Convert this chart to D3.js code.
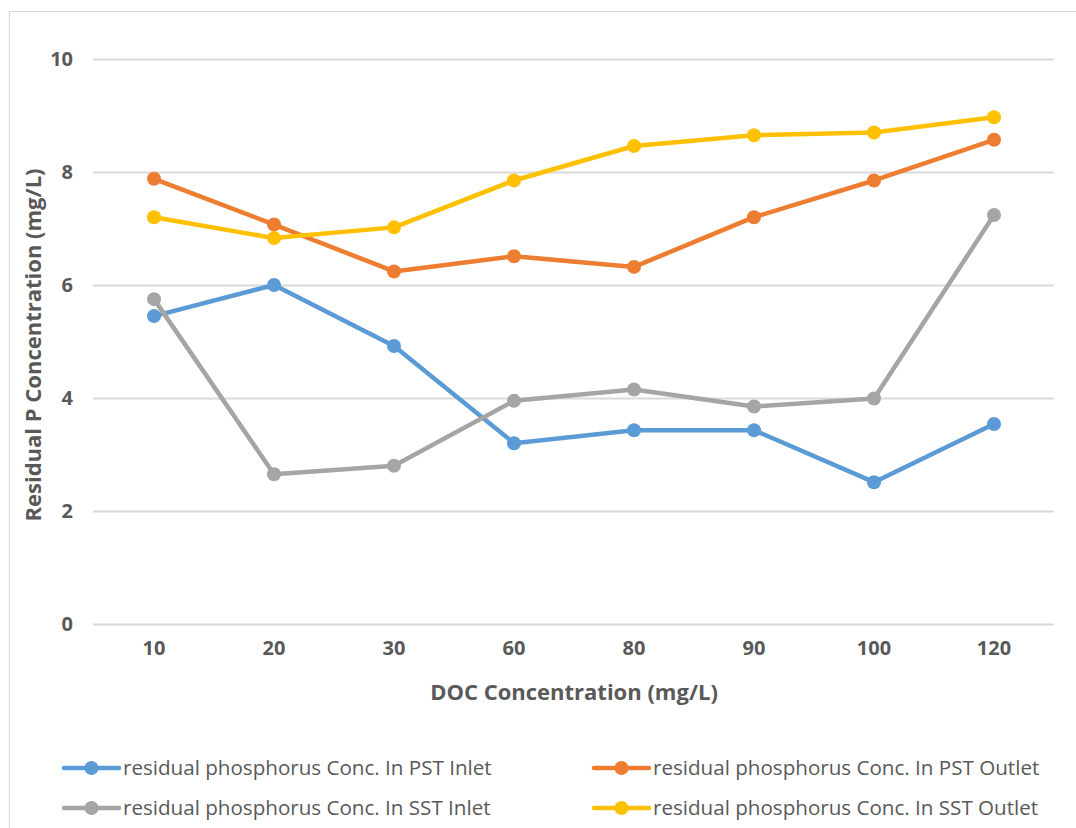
<!DOCTYPE html>
<html><head><meta charset="utf-8">
<script src="https://cdn.jsdelivr.net/npm/d3@7"></script>
<style>body{margin:0;background:#fff;} svg{display:block;font-family:"Open Sans",Lato,sans-serif;}</style>
</head><body><svg id="c" width="1076" height="828"></svg>
<script>
const categories = ["10","20","30","60","80","90","100","120"];
const pstInlet  = [5.45, 6.00, 4.92, 3.20, 3.43, 3.43, 2.51, 3.54];
const pstOutlet = [7.88, 7.07, 6.24, 6.51, 6.32, 7.20, 7.85, 8.57];
const sstInlet  = [5.75, 2.65, 2.80, 3.95, 4.15, 3.85, 3.99, 7.24];
const sstOutlet = [7.20, 6.83, 7.02, 7.85, 8.46, 8.65, 8.70, 8.97];
const yTicks = [0, 2, 4, 6, 8, 10];
const seriesNames = [
  "residual phosphorus Conc. In PST Inlet",
  "residual phosphorus Conc. In PST Outlet",
  "residual phosphorus Conc. In SST Inlet",
  "residual phosphorus Conc. In SST Outlet"
];
const seriesColors = ["#5b9bd5", "#ed7d31", "#a5a5a5", "#ffc000"];
const seriesData = [pstInlet, pstOutlet, sstInlet, sstOutlet];

const svg = d3.select("#c");
const txt = "#595959";
const ff = "'Open Sans', sans-serif";
// outer border
svg.append("rect").attr("x", 9.5).attr("y", 11.5).attr("width", 1080).attr("height", 830)
  .attr("fill", "none").attr("stroke", "#d9d9d9").attr("stroke-width", 1);

const x = d3.scaleBand().domain(categories).range([94, 1054]);
const y = d3.scaleLinear().domain([0, 10]).range([624, 59]);

// gridlines
svg.append("g").selectAll("line").data(yTicks).join("line")
  .attr("x1", 93).attr("x2", 1054)
  .attr("y1", d => Math.round(y(d)) + 0.5).attr("y2", d => Math.round(y(d)) + 0.5)
  .attr("stroke", "#d9d9d9").attr("stroke-width", 2);

// y axis labels
const yAxis = d3.axisLeft(y).tickValues(yTicks).tickSize(0).tickPadding(0);
const gy = svg.append("g").attr("transform", "translate(73,0)").call(yAxis);
gy.select(".domain").remove();
gy.selectAll("text").attr("fill", txt).attr("font-size", 20).attr("font-weight", "bold")
  .attr("font-family", ff);

// x axis labels
const xAxis = d3.axisBottom(x).tickSize(0).tickPadding(0);
const gx = svg.append("g").attr("transform", "translate(0,641)").call(xAxis);
gx.select(".domain").remove();
gx.selectAll("text").attr("fill", txt).attr("font-size", 20).attr("font-weight", "bold")
  .attr("font-family", ff);

// axis titles
svg.append("text").attr("x", 574).attr("y", 700).attr("text-anchor", "middle")
  .attr("fill", txt).attr("font-size", 22).attr("font-weight", "bold").attr("font-family", ff)
  .text("DOC Concentration (mg/L)");
svg.append("text").attr("transform", "translate(41,345) rotate(-90)").attr("text-anchor", "middle")
  .attr("fill", txt).attr("font-size", 22).attr("font-weight", "bold").attr("font-family", ff)
  .text("Residual P Concentration (mg/L)");

const line = d3.line().x((d, i) => x(categories[i]) + x.bandwidth() / 2).y(d => y(d));

seriesData.forEach((s, k) => {
  const g = svg.append("g");
  g.append("path").datum(s).attr("d", line).attr("fill", "none")
    .attr("stroke", seriesColors[k]).attr("stroke-width", 4.5).attr("stroke-linejoin", "round").attr("stroke-linecap", "round");
  g.selectAll("circle").data(s).join("circle")
    .attr("cx", (d, i) => x(categories[i]) + x.bandwidth() / 2)
    .attr("cy", d => y(d)).attr("r", 7).attr("fill", seriesColors[k]);
});

// legend
const legPos = [[64, 768], [594, 768], [64, 808], [594, 808]];
seriesNames.forEach((n, k) => {
  const [lx, ly] = legPos[k];
  const g = svg.append("g");
  g.append("line").attr("x1", lx).attr("x2", lx + 55).attr("y1", ly).attr("y2", ly)
    .attr("stroke", seriesColors[k]).attr("stroke-width", 4.5).attr("stroke-linecap", "round");
  g.append("circle").attr("cx", lx + 27.5).attr("cy", ly).attr("r", 7).attr("fill", seriesColors[k]);
  g.append("text").attr("x", lx + 59).attr("y", ly + 7).attr("fill", txt).attr("font-family", ff)
    .attr("font-size", 20.6).text(n);
});
</script></body></html>
